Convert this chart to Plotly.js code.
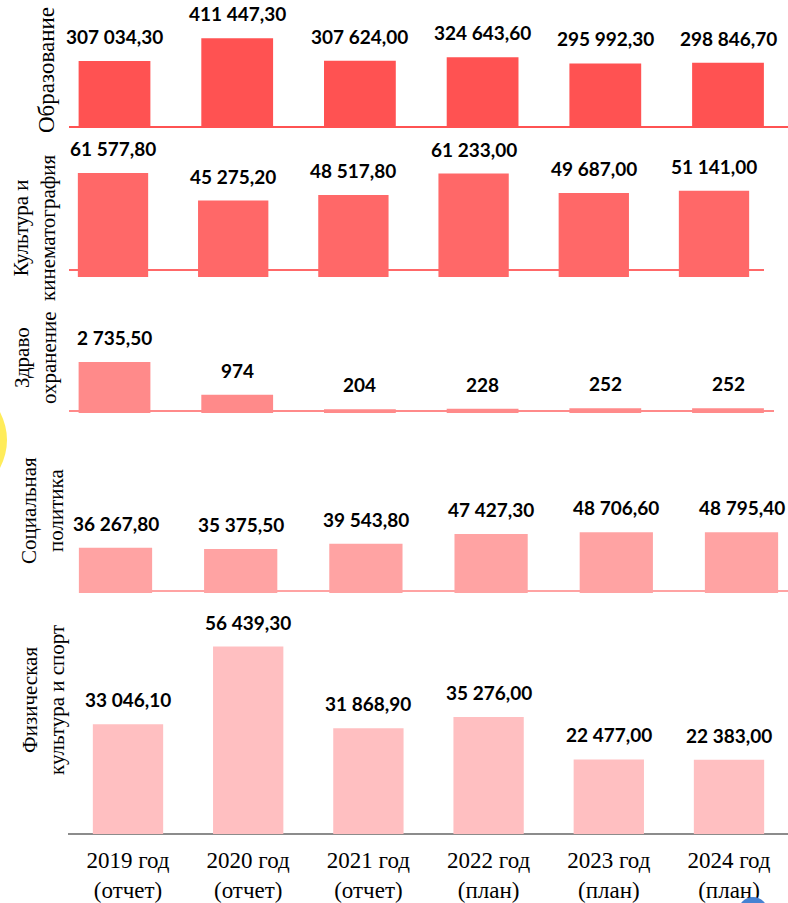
<!DOCTYPE html>
<html>
<head>
<meta charset="utf-8">
<script src="https://cdn.plot.ly/plotly-3.0.1.min.js"></script>
<style>html,body{margin:0;padding:0;background:#fff;}#chart{width:788px;height:903px;}</style>
</head>
<body>
<div id="chart"></div>
<script>
// ---- data ----
const categories = ['2019 г.', '2020 г.', '2021 г.', '2022 г.', '2023 г.', '2024 г.'];
const tickLabels = ['2019 год<br>(отчет)', '2020 год<br>(отчет)', '2021 год<br>(отчет)', '2022 год<br>(план)', '2023 год<br>(план)', '2024 год<br>(план)'];
const education = [307034.30, 411447.30, 307624.00, 324643.60, 295992.30, 298846.70];
const culture   = [61577.80, 45275.20, 48517.80, 61233.00, 49687.00, 51141.00];
const health    = [2735.50, 974, 204, 228, 252, 252];
const social    = [36267.80, 35375.50, 39543.80, 47427.30, 48706.60, 48795.40];
const sport     = [33046.10, 56439.30, 31868.90, 35276.00, 22477.00, 22383.00];
const panelTitles = ['Образование', 'Культура и<br>кинематография', 'Здраво<br>охранение', 'Социальная<br>политика', 'Физическая<br>культура и спорт'];

// ---- layout geometry (pixels) ----
const W = 788, H = 903;
const fx = p => p / W;
const fy = p => 1 - p / H;
const SERIF = '"Liberation Serif", "Times New Roman", "DejaVu Serif", serif';
const LABEL = 'Lato, "Open Sans", sans-serif';

const panels = [
  {values: education, title: panelTitles[0], color: 'rgb(255,82,82)',  c0: 114.5, s: 122.7, zero: 128, top: 0,   scale: 67/307034.3,
   line: {x0: 69, x1: 791, y: 127, color: 'rgb(255,82,82)', w: 2}, tx: 46, ty: 70, tsize: 23, trimInt: false},
  {values: culture,   title: panelTitles[1], color: 'rgb(255,104,104)', c0: 113, s: 120.2, zero: 277, top: 140, scale: 104/61577.8,
   line: {x0: 69, x1: 764, y: 270, color: 'rgb(255,104,104)', w: 2}, tx: 34, ty: 228, tsize: 21, trimInt: false},
  {values: health,    title: panelTitles[2], color: 'rgb(255,138,138)', c0: 114.5, s: 122.7, zero: 413, top: 300, scale: 51/2735.5,
   line: {x0: 69, x1: 774, y: 411, color: 'rgb(255,138,138)', w: 2}, tx: 35, ty: 358, tsize: 21, trimInt: true},
  {values: social,    title: panelTitles[3], color: 'rgb(255,163,163)', c0: 115.5, s: 125.2, zero: 593, top: 470, scale: 0.001245,
   line: {x0: 79, x1: 790, y: 591, color: 'rgb(255,163,163)', w: 2}, tx: 42, ty: 511, tsize: 21, trimInt: false},
  {values: sport,     title: panelTitles[4], color: 'rgb(255,191,193)', c0: 128, s: 120.2, zero: 834, top: 610, scale: 0.00332,
   line: {x0: 68, x1: 788, y: 834, color: 'rgb(140,140,140)', w: 2}, tx: 43, ty: 700, tsize: 21, trimInt: false}
];

function fmt(v, trimInt) {
  const dec = (trimInt && Number.isInteger(v)) ? 0 : 2;
  const parts = v.toFixed(dec).split('.');
  const intPart = parts[0].replace(/\B(?=(\d{3})+(?!\d))/g, '\u00a0');
  return parts.length > 1 ? intPart + ',' + parts[1] : intPart;
}

const data = [];
const layout = {
  width: W, height: H,
  margin: {l: 0, r: 0, t: 0, b: 0},
  paper_bgcolor: '#fff', plot_bgcolor: 'rgba(0,0,0,0)',
  showlegend: false,
  bargap: 0.415,
  font: {family: SERIF, color: '#000'},
  annotations: [],
  shapes: []
};

panels.forEach((p, i) => {
  const n = i + 1;
  const xs = n === 1 ? '' : String(n);
  data.push({
    type: 'bar', x: categories, y: p.values,
    xaxis: 'x' + xs, yaxis: 'y' + xs,
    marker: {color: p.color, line: {width: 0}},
    hoverinfo: 'skip', showlegend: false
  });
  layout['xaxis' + xs] = {
    type: 'category', domain: [0, 1], anchor: 'y' + xs,
    range: [-p.c0 / p.s, (W - p.c0) / p.s],
    showgrid: false, zeroline: false, showline: false, ticks: '',
    showticklabels: n === 5, automargin: false, fixedrange: true,
    tickmode: 'array', tickvals: categories, ticktext: tickLabels,
    ticklabelstandoff: 10,
    tickfont: {family: SERIF, size: 23, color: '#000'}
  };
  layout['yaxis' + xs] = {
    domain: [fy(p.zero), fy(p.top)], anchor: 'x' + xs,
    range: [0, (p.zero - p.top) / p.scale],
    showgrid: false, zeroline: false, showline: false, showticklabels: false,
    ticks: '', automargin: false, fixedrange: true
  };
  layout.shapes.push({
    type: 'line', xref: 'paper', yref: 'paper', layer: 'below',
    x0: fx(p.line.x0), x1: fx(p.line.x1), y0: fy(p.line.y), y1: fy(p.line.y),
    line: {color: p.line.color, width: p.line.w}
  });
  p.values.forEach((v, j) => {
    layout.annotations.push({
      xref: 'x' + xs, yref: 'y' + xs, x: j, y: v,
      text: '<b>' + fmt(v, p.trimInt) + '</b>', showarrow: false,
      xanchor: 'center', yanchor: 'bottom', yshift: 11,
      font: {family: LABEL, size: 19, color: '#000'}
    });
  });
  layout.annotations.push({
    xref: 'paper', yref: 'paper', x: fx(p.tx), y: fy(p.ty),
    text: p.title, showarrow: false, textangle: -90,
    xanchor: 'center', yanchor: 'middle', align: 'center',
    font: {family: SERIF, size: p.tsize, color: '#000'}
  });
});

// decorative background fragments visible at the edges
layout.shapes.push({
  type: 'path', xref: 'paper', yref: 'paper', layer: 'below',
  path: 'M 0,' + fy(412) + ' Q ' + fx(14) + ',' + fy(440) + ' 0,' + fy(468) + ' Z',
  fillcolor: 'rgb(255,236,90)', line: {width: 0}
});
layout.shapes.push({
  type: 'circle', xref: 'paper', yref: 'paper', layer: 'above',
  x0: fx(738), x1: fx(768), y0: fy(928), y1: fy(897),
  fillcolor: 'rgb(70,130,210)', line: {width: 0}
});

Plotly.newPlot('chart', data, layout, {staticPlot: true, displayModeBar: false});
</script>
</body>
</html>
